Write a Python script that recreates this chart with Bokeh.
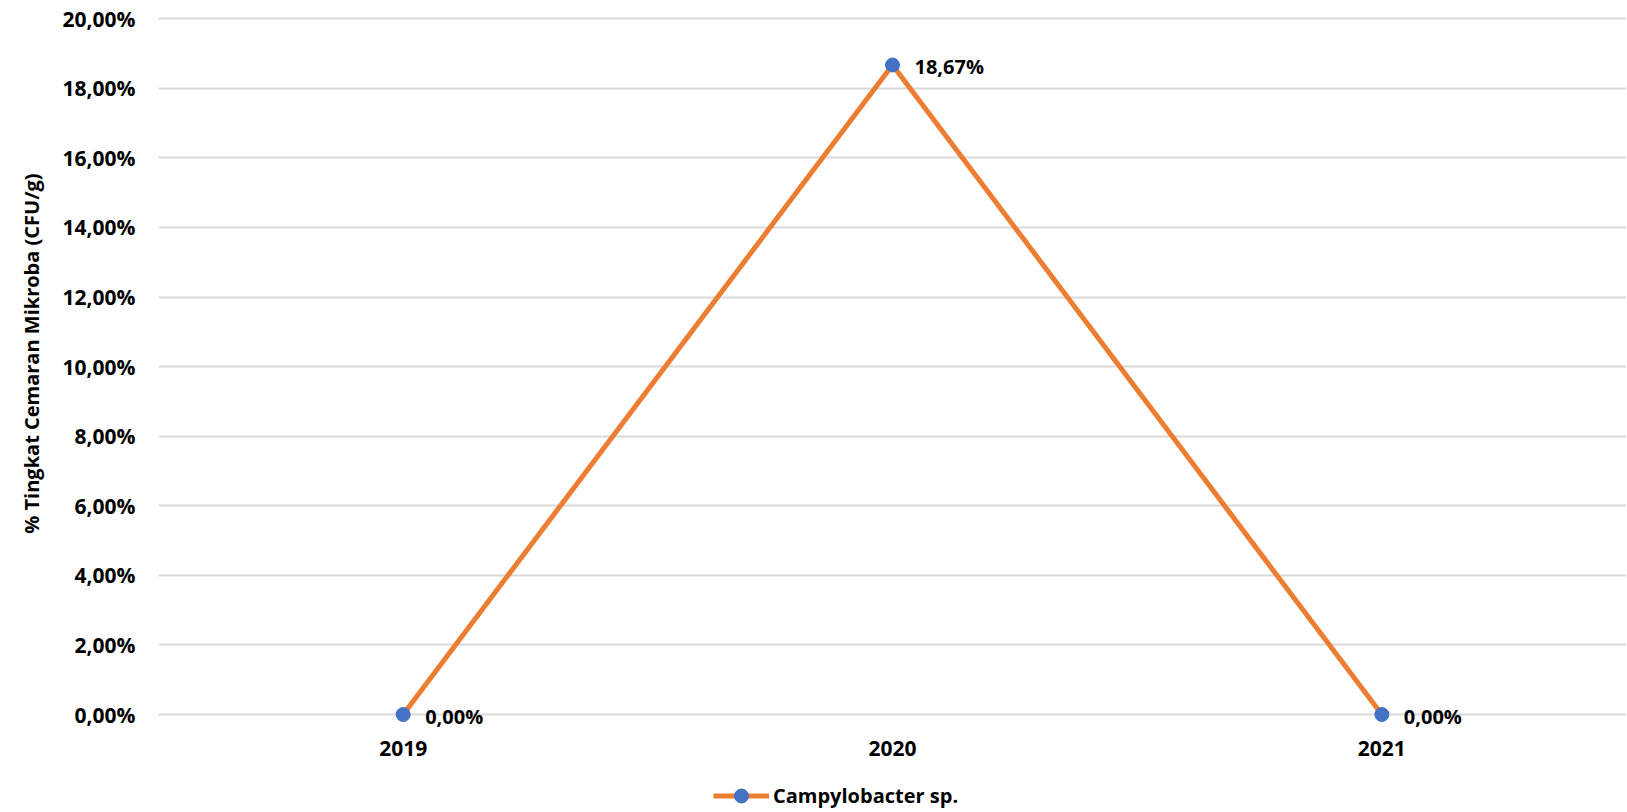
from bokeh.plotting import figure
from bokeh.models import (FactorRange, Range1d, FixedTicker, CustomJSTickFormatter,
                          Legend, LegendItem, ColumnDataSource, LabelSet, Title)
from bokeh.core.properties import value
from bokeh.embed import file_html
from bokeh.resources import INLINE

years = ["2019", "2020", "2021"]
campylobacter = [0.0, 0.1867, 0.0]
series_name = "Campylobacter sp."
y_ticks = [0.00, 0.02, 0.04, 0.06, 0.08, 0.10, 0.12, 0.14, 0.16, 0.18, 0.20]
y_title = "% Tingkat Cemaran Mikroba (CFU/g)"

FONT = "Open Sans"
ORANGE = "#ED7D31"
BLUE = "#4472C4"

labels = [("%.2f%%" % (v * 100)).replace(".", ",") for v in campylobacter]
src = ColumnDataSource(dict(x=years, y=campylobacter, lbl=labels))

p = figure(frame_width=1468, frame_height=796, output_backend="svg", toolbar_location=None,
           x_range=FactorRange(*years, range_padding=0),
           y_range=Range1d(-0.0273, 0.2015),
           min_border_left=152, min_border_right=0, min_border_top=13,
           min_border_bottom=0)
p.outline_line_color = None
p.background_fill_color = "white"
p.border_fill_color = "white"

p.xgrid.grid_line_color = None
p.ygrid.grid_line_color = "#D9D9D9"
p.ygrid.grid_line_width = 2

p.yaxis.ticker = FixedTicker(ticks=y_ticks)
p.yaxis.formatter = CustomJSTickFormatter(
    code="return (tick*100).toFixed(2).replace('.', ',') + '%';")
for ax in (p.xaxis[0], p.yaxis[0]):
    ax.axis_line_color = None
    ax.major_tick_line_color = None
    ax.minor_tick_line_color = None
    ax.major_tick_out = 0
    ax.major_tick_in = 0
    ax.major_label_text_font = FONT
    ax.major_label_text_font_style = "bold"
    ax.major_label_text_font_size = "21px"
    ax.major_label_text_color = "black"

p.xaxis.fixed_location = 0
p.yaxis.major_label_standoff = 23
p.xaxis.major_label_standoff = 26

p.add_layout(Title(text=y_title, align="right", offset=160, standoff=30,
                   text_font=FONT, text_font_style="bold", text_font_size="20px",
                   text_color="black"), "left")

ln = p.line("x", "y", source=src, line_color=ORANGE, line_width=5)
mk = p.scatter("x", "y", source=src, size=14, fill_color=BLUE, line_color=BLUE)

p.add_layout(LabelSet(x="x", y="y", text="lbl", source=src, x_offset=22, y_offset=-2,
                      text_font=value(FONT), text_font_style="bold", text_font_size="20px",
                      text_color="black", text_baseline="middle", text_align="left"))

legend = Legend(items=[LegendItem(label=series_name, renderers=[ln, mk])],
                location=(555, -4), orientation="horizontal",
                glyph_width=56, glyph_height=35, label_standoff=4,
                label_text_font=FONT, label_text_font_style="bold",
                label_text_font_size="20px", label_text_color="black",
                border_line_color=None, background_fill_alpha=0,
                padding=0, margin=0, spacing=0)
p.add_layout(legend, "center")

open("out.html", "w").write(file_html(p, INLINE))
